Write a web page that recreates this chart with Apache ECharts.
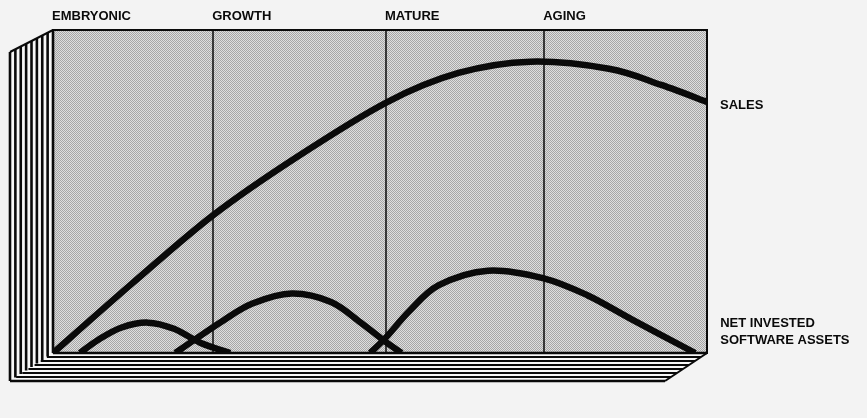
<!DOCTYPE html>
<html>
<head>
<meta charset="utf-8">
<style>
  html, body { margin: 0; padding: 0; background: #f3f3f3; }
  #chart { width: 867px; height: 418px; }
</style>
<script src="https://cdn.jsdelivr.net/npm/echarts@6/dist/echarts.min.js"></script>
</head>
<body>
<div id="chart"></div>
<script>
// Life-cycle stages and where each one begins on the time scale (0-100)
const stageNames = ['EMBRYONIC', 'GROWTH', 'MATURE', 'AGING'];
const stageStarts = [0, 24.5, 50.9, 75.1];

// Sales over the product life cycle: [time, level]
const sales = [
  [0, 0], [12.2, 21.7], [24.5, 42.7], [37.3, 60.7], [51.1, 77.7], [62, 86.7],
  [73, 90.2], [85, 88], [93, 83], [100, 77.7]
];

// Net invested software assets: one hump per software generation
const assetsGen1 = [
  [4.1, 0], [7, 4.2], [10.5, 7.9], [14.5, 9.4], [18.5, 7.5], [22.5, 3.2], [27.1, 0]
];
const assetsGen2 = [
  [18.7, 0], [22, 4.6], [26, 10], [30.5, 15.3], [36.5, 18.4], [42.5, 15.8], [47, 9.5],
  [50.5, 4], [53.3, 0]
];
const assetsGen3 = [
  [48.5, 0], [51, 5], [54.5, 13], [59, 21], [66.5, 25.5], [74.9, 23.2], [81.7, 17.9],
  [88.7, 10.2], [98.2, 0]
];

// Frame layout (pixels)
const PLOT = { left: 53, top: 30, width: 654, height: 323 };
const DEPTH = { dx: 43, dyTop: 22, dyBottom: 28 };
const FONT = '"Liberation Sans", Arial, Helvetica, sans-serif';
const INK = '#0a0a0a';

// Fine halftone screen used for the front face
function screenTile() {
  const c = document.createElement('canvas');
  c.width = 2; c.height = 2;
  const g = c.getContext('2d');
  g.fillStyle = '#dedede'; g.fillRect(0, 0, 2, 2);
  g.fillStyle = '#a6a6a6'; g.fillRect(0, 0, 1, 1); g.fillRect(1, 1, 1, 1);
  return c;
}

// Extruded box: screened front, striped left side and striped floor
function boxGraphics() {
  const L = PLOT.left, T = PLOT.top, R = PLOT.left + PLOT.width, B = PLOT.top + PLOT.height;
  const xl = L - DEPTH.dx, yTop = T + DEPTH.dyTop, yBot = B + DEPTH.dyBottom;
  const xr = R - DEPTH.dx + 1;
  const els = [];
  els.push({ type: 'rect', shape: { x: L, y: T, width: PLOT.width, height: PLOT.height },
    style: { fill: { image: screenTile(), repeat: 'repeat' } }, z: -1, silent: true });
  // side face
  els.push({ type: 'polygon', shape: { points: [[L, T], [xl, yTop], [xl, yBot], [L, B]] },
    style: { fill: '#f7f7f7', stroke: null }, z: 5 });
  const nV = 8;
  for (let i = 0; i <= nV; i++) {
    const x = xl + (L - xl) * i / nV;
    const f = (x - xl) / (L - xl);
    const y1 = yTop - (yTop - T) * f;
    const y2 = yBot - (yBot - B) * f;
    els.push({ type: 'line', shape: { x1: x, y1: y1, x2: x, y2: y2 },
      style: { stroke: INK, lineWidth: 2.6 }, z: 6 });
  }
  // floor face
  els.push({ type: 'polygon', shape: { points: [[L, B], [R, B], [xr, yBot], [xl, yBot]] },
    style: { fill: '#f7f7f7', stroke: null }, z: 5 });
  const nH = 7;
  for (let j = 0; j <= nH; j++) {
    const y = B + (yBot - B) * j / nH;
    const f = (y - B) / (yBot - B);
    const x1 = L - (L - xl) * f;
    const x2 = R - (R - xr) * f;
    els.push({ type: 'line', shape: { x1: x1, y1: y, x2: x2, y2: y },
      style: { stroke: INK, lineWidth: j === 0 || j === nH ? 2.6 : 2 }, z: 6 });
  }
  els.push({ type: 'line', shape: { x1: R, y1: B, x2: xr, y2: yBot },
    style: { stroke: INK, lineWidth: 2 }, z: 6 });
  els.push({ type: 'line', shape: { x1: L, y1: T, x2: xl, y2: yTop },
    style: { stroke: INK, lineWidth: 2 }, z: 6 });
  return els;
}

// Catmull-Rom spline through pixel points, as cubic Bezier path data
function splinePath(pts) {
  const n = pts.length;
  let d = 'M' + pts[0][0] + ',' + pts[0][1];
  for (let i = 0; i < n - 1; i++) {
    const p0 = pts[Math.max(i - 1, 0)], p1 = pts[i], p2 = pts[i + 1], p3 = pts[Math.min(i + 2, n - 1)];
    const c1 = [p1[0] + (p2[0] - p0[0]) / 6, p1[1] + (p2[1] - p0[1]) / 6];
    const c2 = [p2[0] - (p3[0] - p1[0]) / 6, p2[1] - (p3[1] - p1[1]) / 6];
    d += ' C' + c1[0] + ',' + c1[1] + ' ' + c2[0] + ',' + c2[1] + ' ' + p2[0] + ',' + p2[1];
  }
  return d;
}

const labelStyle = { fill: INK, fontFamily: FONT, fontWeight: 'bold', fontSize: 13 };

// Smooth thick curve through a series' points, with an optional end label
function curveSeries(name, data, label) {
  return {
    name: name,
    type: 'custom',
    coordinateSystem: 'cartesian2d',
    data: data,
    encode: { x: 0, y: 1 },
    z: 3,
    silent: true,
    renderItem: function (params, api) {
      if (params.dataIndex !== 0) return null;
      const pts = data.map(p => api.coord(p));
      const children = [{
        type: 'path',
        shape: { pathData: splinePath(pts) },
        style: { fill: 'none', stroke: INK, lineWidth: 6.5, lineJoin: 'round', lineCap: 'butt' }
      }];
      if (label) {
        const end = pts[pts.length - 1];
        children.push({
          type: 'text',
          x: end[0] + label.dx, y: end[1] + label.dy,
          style: Object.assign({ text: label.text, align: 'left', verticalAlign: 'middle',
            lineHeight: 17.5 }, labelStyle)
        });
      }
      return { type: 'group', children: children };
    }
  };
}

const chart = echarts.init(document.getElementById('chart'), null, { renderer: 'canvas' });
chart.setOption({
  animation: false,
  backgroundColor: '#f3f3f3',
  grid: {
    left: PLOT.left, top: PLOT.top, width: PLOT.width, height: PLOT.height,
    show: true, backgroundColor: 'transparent', borderColor: INK, borderWidth: 2
  },
  xAxis: { type: 'value', min: 0, max: 100, show: false, splitLine: { show: false } },
  yAxis: { type: 'value', min: 0, max: 100, show: false, splitLine: { show: false } },
  graphic: boxGraphics(),
  series: [
    {
      name: 'Stages',
      type: 'scatter',
      data: stageStarts.map((x, i) => [x, 100, stageNames[i]]),
      symbolSize: 0,
      silent: true,
      clip: false,
      z: 1,
      itemStyle: { opacity: 1 },
      label: {
        show: true,
        formatter: p => p.data[2],
        position: [-1, -14],
        align: 'left',
        verticalAlign: 'middle',
        color: INK,
        opacity: 1,
        fontFamily: FONT,
        fontWeight: 'bold',
        fontSize: 13
      },
      markLine: {
        silent: true,
        symbol: 'none',
        label: { show: false },
        lineStyle: { color: INK, width: 1.5, type: 'solid', opacity: 1 },
        data: stageStarts.slice(1).map(x => ({ xAxis: x }))
      }
    },
    curveSeries('Sales', sales, { text: 'SALES', dx: 13, dy: 3 }),
    curveSeries('Assets gen 1', assetsGen1, null),
    curveSeries('Assets gen 2', assetsGen2, null),
    curveSeries('Assets gen 3', assetsGen3, { text: 'NET INVESTED\nSOFTWARE ASSETS', dx: 25, dy: -21 })
  ]
});
</script>
</body>
</html>
